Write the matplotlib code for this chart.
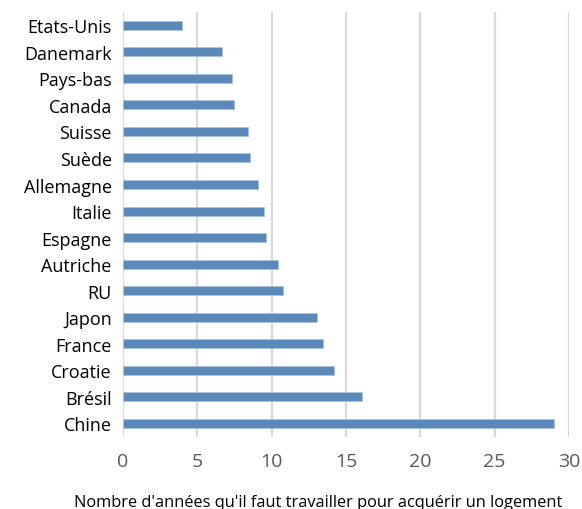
import matplotlib.pyplot as plt

plt.rcParams['font.family'] = ['Open Sans', 'DejaVu Sans']

# Data
pays = ["Etats-Unis", "Danemark", "Pays-bas", "Canada", "Suisse", "Suède",
        "Allemagne", "Italie", "Espagne", "Autriche", "RU", "Japon",
        "France", "Croatie", "Brésil", "Chine"]
annees = [4.0, 6.65, 7.35, 7.5, 8.4, 8.55, 9.1, 9.5, 9.6, 10.4, 10.75,
          13.05, 13.45, 14.2, 16.1, 29.0]
xticks = [0, 5, 10, 15, 20, 25, 30]

fig = plt.figure(figsize=(5.82, 5.10), dpi=100)
ax = fig.add_axes([0.2113, 0.1418, 0.7664, 0.8327])

pos = list(range(len(pays)))
ax.barh(pos, annees, height=0.34, color="#5A89BA",
        edgecolor="#A9C3DE", linewidth=0.6, zorder=3)

ax.set_ylim(len(pays) - 0.5, -0.5)
ax.set_xlim(0, 30)
ax.set_yticks(pos)
ax.set_yticklabels(pays, fontsize=13, color="black")
ax.set_xticks(xticks)
ax.set_xticklabels([str(t) for t in xticks], fontsize=14, color="#595959")

ax.tick_params(axis="both", length=0)
ax.tick_params(axis="y", pad=8)
ax.tick_params(axis="x", pad=11)
for s in ax.spines.values():
    s.set_visible(False)
ax.grid(axis="x", color="#D9D9D9", linewidth=1.6, zorder=0)

ax.set_xlabel("Nombre d'années qu'il faut travailler pour acquérir un logement",
              fontsize=11.8, color="black", labelpad=17)
ax.xaxis.label.set_x(0.437)

plt.savefig("out.png", dpi=100)
